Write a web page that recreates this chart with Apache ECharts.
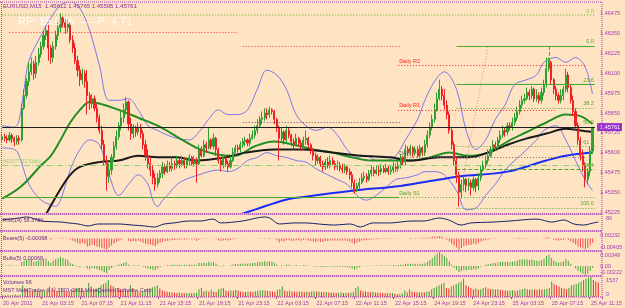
<!DOCTYPE html>
<html>
<head>
<meta charset="utf-8">
<script src="https://cdn.jsdelivr.net/npm/echarts@6/dist/echarts.min.js"></script>
<style>
html,body{margin:0;padding:0;background:#ffe4c4}
#chart{width:625px;height:308px}
</style>
</head>
<body>
<div id="chart"></div>
<script>
// EURUSD M15, values
const timeLabels = ['20 Apr 2011','21 Apr 03:15','21 Apr 07:15','21 Apr 11:15','21 Apr 15:15','21 Apr 19:15',
  '21 Apr 23:15','22 Apr 03:15','22 Apr 07:15','22 Apr 11:15','22 Apr 15:15','24 Apr 19:15','24 Apr 23:15',
  '25 Apr 03:15','25 Apr 07:15','25 Apr 11:15'];
const LABEL_EVERY = 16;
const header = ['EURUSD,M15', 1.45612, 1.45765, 1.45595, 1.45761];

const firstOpen = 1.4568;
const closes = [
  1.4570,1.4569,1.4568,1.4571,1.4569,1.4567,1.4569,1.4568,1.4588,1.4596,1.4605,1.4611,1.4616,1.4610,1.4617,1.4622,
  1.4627,1.4634,1.4637,1.4626,1.4620,1.4627,1.4634,1.4639,1.4645,1.4642,1.4639,1.4641,1.4631,1.4626,1.4618,1.4612,
  1.4606,1.4610,1.4605,1.4596,1.4591,1.4594,1.4588,1.4582,1.4574,1.4565,1.4555,1.4545,1.4549,1.4557,1.4564,1.4570,
  1.4577,1.4582,1.4587,1.4592,1.4578,1.4572,1.4576,1.4573,1.4576,1.4572,1.4565,1.4558,1.4553,1.4549,1.4544,1.4540,
  1.4544,1.4547,1.4551,1.4548,1.4552,1.4550,1.4553,1.4552,1.4555,1.4553,1.4555,1.4552,1.4555,1.4557,1.4553,1.4555,
  1.4553,1.4562,1.4558,1.4565,1.4563,1.4568,1.4564,1.4569,1.4562,1.4555,1.4552,1.4557,1.4553,1.4551,1.4555,1.4560,
  1.4563,1.4562,1.4565,1.4567,1.4568,1.4566,1.4569,1.4571,1.4574,1.4577,1.4581,1.4582,1.4585,1.4584,1.4587,1.4586,
  1.4581,1.4576,1.4569,1.4573,1.4568,1.4574,1.4571,1.4567,1.4565,1.4569,1.4566,1.4564,1.4568,1.4569,1.4565,1.4562,
  1.4558,1.4555,1.4557,1.4553,1.4551,1.4554,1.4552,1.4555,1.4553,1.4551,1.4552,1.4550,1.4549,1.4551,1.4548,1.4546,
  1.4541,1.4536,1.4539,1.4541,1.4544,1.4545,1.4543,1.4547,1.4549,1.4547,1.4549,1.4548,1.4550,1.4548,1.4550,1.4548,
  1.4549,1.4551,1.4550,1.4552,1.4557,1.4554,1.4562,1.4560,1.4563,1.4560,1.4562,1.4558,1.4563,1.4560,1.4565,1.4571,
  1.4576,1.4581,1.4587,1.4594,1.4600,1.4596,1.4590,1.4584,1.4574,1.4565,1.4555,1.4546,1.4535,1.4540,1.4543,1.4539,
  1.4541,1.4538,1.4543,1.4539,1.4544,1.4549,1.4552,1.4555,1.4558,1.4562,1.4565,1.4563,1.4568,1.4571,1.4574,1.4573,
  1.4577,1.4576,1.4579,1.4582,1.4586,1.4590,1.4593,1.4594,1.4598,1.4596,1.4600,1.4594,1.4596,1.4593,1.4598,1.4603,
  1.4613,1.4617,1.4606,1.4600,1.4596,1.4593,1.4596,1.4600,1.4609,1.4601,1.4593,1.4586,1.4577,1.4568,1.4558,1.4552,
  1.4543,1.4548,1.4561,1.4576
];
const highs = [
  1.4572,1.4572,1.4571,1.4573,1.4572,1.4570,1.4571,1.4571,1.4591,1.4600,1.4607,1.4617,1.4620,1.4618,1.4621,1.4626,
  1.4630,1.4637,1.4640,1.4641,1.4628,1.4630,1.4637,1.4642,1.4648,1.4646,1.4644,1.4644,1.4642,1.4634,1.4629,1.4621,
  1.4615,1.4613,1.4612,1.4612,1.4598,1.4597,1.4596,1.4591,1.4584,1.4577,1.4568,1.4558,1.4553,1.4559,1.4567,1.4574,
  1.4579,1.4586,1.4591,1.4595,1.4593,1.4582,1.4578,1.4577,1.4579,1.4578,1.4574,1.4568,1.4562,1.4557,1.4552,1.4547,
  1.4547,1.4549,1.4554,1.4553,1.4555,1.4554,1.4557,1.4555,1.4558,1.4557,1.4558,1.4557,1.4557,1.4559,1.4558,1.4558,
  1.4557,1.4565,1.4564,1.4568,1.4567,1.4576,1.4569,1.4572,1.4570,1.4563,1.4557,1.4558,1.4558,1.4555,1.4558,1.4563,
  1.4565,1.4565,1.4567,1.4569,1.4570,1.4569,1.4572,1.4574,1.4577,1.4581,1.4583,1.4586,1.4588,1.4588,1.4589,1.4588,
  1.4587,1.4582,1.4577,1.4576,1.4574,1.4577,1.4576,1.4572,1.4569,1.4572,1.4570,1.4568,1.4570,1.4574,1.4570,1.4566,
  1.4563,1.4560,1.4559,1.4558,1.4555,1.4556,1.4557,1.4558,1.4557,1.4555,1.4555,1.4554,1.4553,1.4553,1.4552,1.4550,
  1.4548,1.4543,1.4541,1.4544,1.4547,1.4548,1.4547,1.4549,1.4552,1.4551,1.4552,1.4552,1.4553,1.4552,1.4553,1.4552,
  1.4552,1.4554,1.4553,1.4555,1.4559,1.4558,1.4565,1.4564,1.4565,1.4564,1.4564,1.4564,1.4565,1.4564,1.4568,1.4574,
  1.4579,1.4584,1.4591,1.4598,1.4606,1.4602,1.4600,1.4593,1.4586,1.4576,1.4567,1.4557,1.4548,1.4543,1.4545,1.4544,
  1.4544,1.4543,1.4545,1.4544,1.4547,1.4552,1.4555,1.4558,1.4562,1.4564,1.4568,1.4567,1.4570,1.4574,1.4577,1.4576,
  1.4579,1.4579,1.4582,1.4585,1.4589,1.4593,1.4596,1.4597,1.4601,1.4600,1.4602,1.4601,1.4600,1.4598,1.4601,1.4606,
  1.4620,1.4620,1.4618,1.4607,1.4602,1.4598,1.4600,1.4602,1.4613,1.4611,1.4603,1.4596,1.4588,1.4579,1.4570,1.4562,
  1.4554,1.4550,1.4564,1.4576
];
const lows = [
  1.4567,1.4567,1.4566,1.4567,1.4566,1.4564,1.4565,1.4565,1.4567,1.4587,1.4594,1.4602,1.4609,1.4606,1.4607,1.4615,
  1.4620,1.4625,1.4631,1.4618,1.4616,1.4617,1.4625,1.4631,1.4636,1.4639,1.4635,1.4636,1.4629,1.4623,1.4616,1.4608,
  1.4602,1.4603,1.4601,1.4584,1.4587,1.4588,1.4586,1.4579,1.4572,1.4562,1.4552,1.4536,1.4541,1.4546,1.4554,1.4562,
  1.4568,1.4574,1.4579,1.4584,1.4574,1.4568,1.4569,1.4570,1.4571,1.4569,1.4562,1.4555,1.4550,1.4545,1.4540,1.4536,
  1.4538,1.4541,1.4544,1.4546,1.4547,1.4548,1.4548,1.4549,1.4550,1.4550,1.4551,1.4550,1.4550,1.4552,1.4552,1.4551,
  1.4541,1.4552,1.4557,1.4557,1.4560,1.4562,1.4562,1.4562,1.4558,1.4553,1.4548,1.4550,1.4551,1.4548,1.4550,1.4554,
  1.4558,1.4560,1.4560,1.4563,1.4564,1.4564,1.4564,1.4568,1.4569,1.4572,1.4576,1.4578,1.4580,1.4581,1.4582,1.4584,
  1.4578,1.4573,1.4555,1.4567,1.4565,1.4566,1.4569,1.4564,1.4562,1.4564,1.4564,1.4561,1.4562,1.4565,1.4563,1.4559,
  1.4555,1.4552,1.4553,1.4551,1.4548,1.4549,1.4550,1.4550,1.4552,1.4549,1.4549,1.4548,1.4547,1.4547,1.4546,1.4543,
  1.4538,1.4534,1.4535,1.4537,1.4540,1.4542,1.4541,1.4542,1.4545,1.4545,1.4546,1.4545,1.4546,1.4547,1.4547,1.4546,
  1.4546,1.4547,1.4548,1.4548,1.4550,1.4552,1.4552,1.4558,1.4558,1.4557,1.4558,1.4557,1.4557,1.4558,1.4558,1.4563,
  1.4569,1.4574,1.4579,1.4586,1.4593,1.4593,1.4587,1.4581,1.4572,1.4562,1.4552,1.4541,1.4526,1.4531,1.4536,1.4535,
  1.4536,1.4533,1.4536,1.4535,1.4536,1.4542,1.4548,1.4550,1.4553,1.4557,1.4560,1.4561,1.4562,1.4566,1.4569,1.4570,
  1.4571,1.4574,1.4574,1.4577,1.4580,1.4584,1.4588,1.4591,1.4593,1.4593,1.4594,1.4592,1.4592,1.4591,1.4591,1.4596,
  1.4601,1.4611,1.4603,1.4597,1.4593,1.4591,1.4591,1.4593,1.4598,1.4598,1.4591,1.4583,1.4574,1.4565,1.4555,1.4548,
  1.4538,1.4540,1.4545,1.4559
];

// moving averages and bands, [bar, price]
const maGreen = [[0,1.4531],[8,1.4539],[16,1.4552],[20,1.4558],[24,1.4568],[28,1.4579],[32,1.4587],[36,1.4592],
  [40,1.4591],[48,1.4587],[56,1.4582],[64,1.4577],[72,1.4570],[80,1.4563],[88,1.4559],[96,1.4558],[104,1.4564],
  [112,1.4567],[120,1.4565],[128,1.4562],[136,1.4560],[144,1.4557],[152,1.4555],[160,1.4555],[168,1.4555],
  [176,1.4557],[184,1.4560],[192,1.4558],[200,1.4560],[208,1.4567],[216,1.4573],[224,1.4579],[232,1.4584],
  [238,1.4583],[243,1.4578]];
const maBlack = [[18,1.4521],[24,1.4537],[28,1.4546],[32,1.4551],[40,1.4554],[48,1.4555],[56,1.4558],[64,1.4557],
  [72,1.4557],[80,1.4555],[92,1.4557],[100,1.4560],[112,1.4562],[124,1.4562],[136,1.4560],[148,1.4558],[160,1.4557],
  [168,1.4555],[180,1.4557],[192,1.4557],[200,1.4560],[208,1.4565],[216,1.4569],[224,1.4572],[232,1.4575],
  [238,1.4574],[243,1.4573]];
const maBlue = [[98,1.4521],[104,1.4524],[116,1.4530],[124,1.4532],[144,1.4536],[164,1.4539],[180,1.4543],
  [188,1.4545],[208,1.4548],[224,1.4555],[232,1.4558],[243,1.4560]];
const bandUpper = [[0,1.4577],[5,1.4576],[7,1.4581],[9,1.4600],[11,1.4618],[16,1.4634],[20,1.4645],[24,1.4653],
  [28,1.4655],[32,1.4651],[36,1.4637],[40,1.4615],[44,1.4593],[48,1.4593],[52,1.4594],[56,1.4587],[60,1.4577],
  [64,1.4574],[68,1.4571],[72,1.4569],[77,1.4568],[81,1.4573],[85,1.4581],[89,1.4587],[93,1.4584],[97,1.4584],
  [101,1.4587],[105,1.4600],[109,1.4612],[113,1.4609],[117,1.4600],[121,1.4584],[125,1.4577],[129,1.4574],
  [134,1.4576],[138,1.4571],[142,1.4562],[146,1.4557],[150,1.4558],[154,1.4555],[158,1.4555],[162,1.4558],
  [166,1.4568],[171,1.4581],[174,1.4593],[178,1.4605],[182,1.4611],[187,1.4600],[191,1.4574],[195,1.4562],
  [199,1.4568],[203,1.4581],[207,1.4590],[211,1.4603],[216,1.4606],[220,1.4609],[223,1.4617],[228,1.4620],
  [232,1.4617],[236,1.4620],[240,1.4614],[243,1.4597]];
const bandLower = [[0,1.4563],[5,1.4562],[7,1.4558],[11,1.4540],[16,1.4530],[20,1.4527],[22,1.4526],[24,1.4530],
  [28,1.4549],[32,1.4562],[36,1.4568],[40,1.4565],[44,1.4546],[48,1.4533],[52,1.4540],[56,1.4546],[60,1.4540],
  [62,1.4530],[64,1.4526],[66,1.4530],[68,1.4533],[72,1.4540],[77,1.4544],[81,1.4546],[85,1.4548],[89,1.4549],
  [93,1.4548],[97,1.4550],[101,1.4555],[105,1.4557],[109,1.4560],[113,1.4558],[117,1.4557],[121,1.4555],
  [125,1.4554],[129,1.4550],[134,1.4546],[138,1.4543],[142,1.4540],[146,1.4533],[150,1.4530],[154,1.4533],
  [158,1.4538],[162,1.4543],[166,1.4544],[171,1.4546],[174,1.4548],[178,1.4548],[182,1.4546],[187,1.4536],
  [191,1.4524],[195,1.4525],[199,1.4533],[203,1.4540],[207,1.4549],[211,1.4555],[216,1.4562],[220,1.4568],
  [223,1.4574],[228,1.4577],[232,1.4568],[236,1.4555],[240,1.4543],[243,1.4536]];

// lower windows
const oscPts = [[0,67],[7,80],[10,87],[16,60],[24,53],[27,47],[31,40],[35,27],[39,40],[48,40],[53,33],[58,27],
  [62,20],[66,40],[70,47],[76,60],[81,60],[86,73],[89,47],[98,60],[107,87],[109,80],[113,40],[119,47],[124,47],
  [129,40],[135,33],[142,40],[146,20],[151,47],[158,47],[167,60],[172,60],[178,80],[182,67],[187,33],[191,47],
  [200,53],[207,60],[218,73],[224,53],[229,67],[233,40],[237,33],[241,47],[243,53]];
const bears = [ // x 0.00001
  -5,-3,-8,-2,-6,-10,-4,-8,-10,5,10,15,20,-5,10,15,
  20,25,30,-10,-40,-15,10,20,30,25,15,10,-40,-80,-120,-160,
  -200,-150,-180,-280,-260,-220,-250,-280,-300,-330,-360,-400,-320,-250,-180,-120,
  -80,-50,-20,0,-90,-120,-90,-100,-80,-100,-150,-180,-200,-220,-240,-260,
  -200,-150,-110,-90,-80,-70,-60,-50,-40,-45,-35,-40,-30,-25,-30,-25,
  -90,-40,-20,-15,-10,5,-5,0,-20,-60,-90,-70,-60,-70,-50,-30,
  -20,-15,-10,-5,0,-5,0,5,10,15,20,15,20,15,20,15,
  -20,-60,-140,-90,-100,-60,-60,-80,-90,-60,-60,-80,-50,-40,-70,-90,
  -100,-120,-100,-110,-120,-90,-90,-70,-70,-80,-70,-80,-80,-70,-90,-100,
  -150,-190,-150,-110,-80,-60,-60,-50,-30,-30,-25,-25,-20,-20,-15,-20,
  -15,-10,-10,-5,0,5,10,15,20,15,20,15,20,25,30,40,
  50,60,70,80,90,70,20,-40,-100,-180,-250,-320,-405,-330,-260,-250,
  -220,-230,-180,-200,-150,-100,-80,-60,-40,-20,-10,-15,-5,0,5,0,
  5,0,10,15,20,25,20,15,20,15,10,5,10,0,10,20,
  40,50,0,-40,-60,-80,-60,-50,-20,-50,-100,-160,-220,-280,-320,-350,
  -380,-330,-250,-150
];
const bulls = [ // x 0.00001
  20,15,10,20,15,10,15,10,100,140,160,170,160,100,120,140,
  150,180,190,120,80,130,170,200,230,200,170,160,80,50,20,-10,
  -30,0,-10,-60,-80,-40,-60,-80,-100,-120,-150,-180,-100,-50,-20,10,
  40,60,80,100,30,10,20,15,25,10,-20,-40,-60,-80,-90,-100,
  -60,-30,0,10,20,25,30,30,35,30,35,30,35,40,35,40,
  30,80,70,90,80,110,80,100,60,20,-10,20,10,0,20,40,
  50,45,55,60,65,60,70,75,85,95,110,110,120,110,120,115,
  80,40,0,20,10,40,30,15,10,25,15,5,20,25,10,0,
  -10,-20,-10,-20,-30,-15,-20,-10,-15,-20,-15,-20,-25,-20,-30,-35,
  -60,-90,-60,-30,-10,0,-10,5,15,10,15,10,20,15,20,15,
  15,25,20,25,40,30,60,55,60,50,55,45,60,55,70,110,
  150,200,260,320,349,300,250,200,120,40,-40,-100,-150,-120,-100,-110,
  -90,-100,-80,-90,-60,-20,0,30,50,60,80,70,90,100,110,100,
  110,100,110,120,140,160,170,160,170,150,160,140,140,130,150,180,
  250,280,200,140,110,90,100,120,180,130,60,0,-60,-120,-160,-200,
  -222,-190,-120,-40
];
const volumes = [
  150,120,180,140,160,200,130,170,900,700,650,500,450,600,500,420,
  480,520,450,800,650,520,480,500,700,450,400,380,600,550,620,700,
  680,500,520,1100,800,600,650,720,900,1000,1100,1300,900,800,700,650,
  600,550,520,500,900,700,500,450,400,480,600,650,700,750,800,900,
  650,500,450,400,380,350,320,300,350,300,280,300,320,280,300,350,
  600,700,450,500,420,550,400,380,600,650,700,500,450,500,480,550,
  500,420,400,380,420,400,380,450,480,500,520,480,500,450,420,400,
  550,600,800,500,450,500,420,400,380,420,400,380,400,380,420,450,
  400,420,380,360,380,350,340,320,300,320,340,300,320,300,350,400,
  700,800,500,450,420,380,360,400,350,330,320,300,280,300,280,300,
  250,220,240,260,500,350,600,400,380,360,350,380,340,400,450,600,
  700,800,900,1000,1100,700,650,800,900,1000,1100,1200,1400,900,800,700,
  600,650,550,600,700,750,650,600,620,580,600,550,520,500,480,500,
  520,480,500,550,600,650,600,550,600,580,550,620,580,600,620,700,
  1200,1000,900,800,700,650,600,700,900,950,1000,1100,1200,1300,1400,1500,
  1537,1300,1200,1100
];

// axis ticks
const priceTicks = [1.46475,1.46350,1.46225,1.46100,1.45975,1.45850,1.45725,1.45600,1.45475,1.45350,1.45225];
const oscTicks = [100, 80];
const bearsTicks = [0.00232, -0.00405];
const bullsTicks = [0.00349, 0.00, -0.00222];
const volTicks = [1537, 0];

// drawn objects
const fibHigh = 1.46273, fibLow = 1.45251, fibFrom = 187, fibAnchor = [225, 1.4617];
const fibRatios = [0, 23.6, 38.2, 50, 61.8, 76.4, 100];
const topFibLevel = 1.46468;
const pivotNames  = ['', '', 'Daily R2', 'Daily R1', '', 'Daily P', 'Daily S1', ''];
const pivotPrices = [1.4636, 1.4627, 1.4615, 1.4587, 1.4579, 1.4557, 1.4532, 1.4532];
const pivotFrom   = [3, 99, 163, 163, 99, 163, 163, 0];
const pivotTo     = [97, 164, 240, 228, 164, 240, 244, 163];
const weeklyLevel = 1.4552, weeklyName = '#1007?22 Daily';
const trendLine = [[0, 1.4626], [161, 1.4655]];
const fibTrend = [[190, 1.4546], [200, 1.4627]];

const PURPLE = '#a23ab2', GREEN = '#4fa82a', FONT = 'Liberation Sans';
const DOT = [1, 2];
const N = closes.length, SLOTS = N + 1;
const cats = Array.from({length: SLOTS}, (_, i) => (i % LABEL_EVERY === 0 && timeLabels[i / LABEL_EVERY]) || '');
const candles = closes.map((c, i) => [i ? closes[i - 1] : firstOpen, c, lows[i], highs[i]]);
const bid = header[4];

const grids = [
  {left: 1, right: 23, top: 3, height: 210},
  {left: 1, right: 23, top: 215, height: 15},
  {left: 1, right: 23, top: 232, height: 18},
  {left: 1, right: 23, top: 252, height: 23},
  {left: 1, right: 23, top: 277, height: 20}
];
const xAxes = grids.map((g, k) => ({
  type: 'category', gridIndex: k, data: cats, boundaryGap: true,
  axisLine: {show: false},
  axisTick: {show: k === 4, length: 2, interval: i => i % LABEL_EVERY === 0, lineStyle: {color: PURPLE}},
  axisLabel: {show: k === 4, interval: i => i % LABEL_EVERY === 0, align: 'left', margin: 3,
    color: PURPLE, fontSize: 5.5, fontFamily: FONT}
}));
function subAxis(k, min, max, ticks, fmt) {
  return {
    type: 'value', gridIndex: k, position: 'right', min: min, max: max,
    splitLine: {show: false}, axisLine: {show: false}, axisTick: {show: false},
    axisLabel: {
      customValues: ticks, margin: 4, color: PURPLE, fontSize: 5.5, fontFamily: FONT,
      formatter: v => v === max ? '{t|' + fmt(v) + '}' : (v === min ? '{b|' + fmt(v) + '}' : fmt(v)),
      rich: {t: {padding: [7, 0, 0, 0], fontSize: 5.5, color: PURPLE}, b: {padding: [0, 0, 6, 0], fontSize: 5.5, color: PURPLE}}
    }
  };
}
const yAxes = [
  {type: 'value', gridIndex: 0, position: 'right', min: 1.45219, max: 1.46544, scale: true,
    splitLine: {show: false}, axisLine: {show: false}, axisTick: {show: false},
    axisLabel: {customValues: priceTicks.concat([bid]), margin: 1,
      formatter: v => v === bid ? '{bid|' + v.toFixed(5) + '}' : '{p|' + v.toFixed(5) + '}',
      rich: {
        p: {color: PURPLE, fontSize: 5.5, fontFamily: FONT, padding: [0, 0, 0, 3]},
        bid: {color: '#ffffff', fontSize: 5.5, fontFamily: FONT, backgroundColor: '#9932cc', padding: [1, 2, 1, 3]}
      }}},
  subAxis(1, 0, 100, oscTicks, v => String(v)),
  subAxis(2, -0.00405, 0.00232, bearsTicks, v => v.toFixed(5)),
  subAxis(3, -0.00222, 0.00349, bullsTicks, v => v === 0 ? '0.00' : v.toFixed(5)),
  subAxis(4, 0, 1537, volTicks, v => String(v))
];

function hSeg(from, to, price, color, type, width, label, pos) {
  return [
    {coord: [from, price], lineStyle: {color: color, type: type, width: width},
      label: label ? {show: true, formatter: label, position: pos, color: color, fontSize: 5.5,
        fontFamily: FONT, distance: 1} : {show: false}},
    {coord: [to, price]}
  ];
}
const pivotStyle = [
  ['#ff3030', DOT], ['#ff3030', DOT], ['#ff2020', DOT], ['#ff2020', DOT],
  ['#6a4a40', DOT], ['#707070', DOT], [GREEN, DOT], [GREEN, 'solid']
];
const lines = [];
pivotPrices.forEach((p, i) => lines.push(hSeg(pivotFrom[i], pivotTo[i], p, pivotStyle[i][0], pivotStyle[i][1], 1,
  pivotNames[i], 'insideStartTop')));
lines.push(hSeg(0, SLOTS - 1, weeklyLevel, '#8fd16a', [6, 2, 1, 2], 1, weeklyName, 'insideStartTop'));
lines.push(hSeg(0, SLOTS - 1, topFibLevel, '#8fbf4f', DOT, 1.5, '0.0', 'insideEndTop'));
const fibStyle = ['solid', 'solid', DOT, 'solid', DOT, [4, 2], DOT];
fibRatios.forEach((r, i) => {
  const p = fibHigh - (fibHigh - fibLow) * r / 100;
  lines.push(hSeg(fibFrom, SLOTS - 1, p, GREEN, fibStyle[i], 1, r.toFixed(1), 'insideEndTop'));
});
lines.push([{coord: [fibAnchor[0], fibHigh], lineStyle: {color: GREEN, width: 1}, label: {show: false}},
  {coord: fibAnchor}]);
lines.push([{coord: trendLine[0], lineStyle: {color: '#1c1c72', width: 2}, label: {show: false}},
  {coord: trendLine[1]}]);
lines.push([{coord: fibTrend[0], lineStyle: {color: '#f08080', width: 1, type: DOT}, label: {show: false}},
  {coord: fibTrend[1]}]);
lines.push(hSeg(0, SLOTS - 1, bid, '#202020', 'solid', 1, '', 'end'));

function maLine(data, color, width) {
  return {type: 'line', xAxisIndex: 0, yAxisIndex: 0, data: data, showSymbol: false, smooth: 0.35,
    lineStyle: {color: color, width: width}, silent: true, z: 3};
}

const option = {
  animation: false,
  backgroundColor: '#ffe4c4',
  grid: grids,
  xAxis: xAxes,
  yAxis: yAxes,
  series: [
    {type: 'candlestick', xAxisIndex: 0, yAxisIndex: 0, data: candles, barWidth: 1.6, z: 4,
      itemStyle: {color: '#2f9f2f', color0: '#ee2222', borderColor: '#2f9f2f', borderColor0: '#ee2222', borderWidth: 1}},
    maLine(bandUpper, '#5c5cf0', 0.8),
    maLine(bandLower, '#5c5cf0', 0.8),
    maLine(maGreen, '#229022', 2),
    maLine(maBlack, '#1a1a1a', 2),
    maLine(maBlue, '#1a2cf5', 2),
    {type: 'line', xAxisIndex: 0, yAxisIndex: 0, data: [], silent: true,
      markLine: {symbol: 'none', silent: true, animation: false, data: lines},
      z: 2},
    {type: 'line', xAxisIndex: 1, yAxisIndex: 1, data: oscPts, showSymbol: false, smooth: 0.3,
      lineStyle: {color: '#141e6e', width: 1}},
    {type: 'bar', xAxisIndex: 2, yAxisIndex: 2, data: bears.map(v => v / 1e5), barWidth: 1,
      itemStyle: {color: '#f2504a'}},
    {type: 'bar', xAxisIndex: 3, yAxisIndex: 3, data: bulls.map(v => v / 1e5), barWidth: 1,
      itemStyle: {color: '#46a83a'}},
    {type: 'bar', xAxisIndex: 4, yAxisIndex: 4, barWidth: 1,
      data: volumes.map((v, i) => ({value: v, itemStyle: {color: i && v < volumes[i - 1] ? '#ee2a2a' : '#3aa030'}}))}
  ],
  graphic: [
    {type: 'line', shape: {x1: 602, y1: 2, x2: 602, y2: 297}, style: {stroke: PURPLE, lineDash: [1, 1], lineWidth: 1}, z: 100},
    {type: 'line', shape: {x1: 0, y1: 2, x2: 602, y2: 2}, style: {stroke: PURPLE, lineDash: [1, 1], lineWidth: 1}, z: 100},
    {type: 'line', shape: {x1: 1.5, y1: 2, x2: 1.5, y2: 297}, style: {stroke: PURPLE, lineDash: [1, 1], lineWidth: 1}, z: 100},
    ...[213, 230, 250, 275].map(y => ({type: 'rect', shape: {x: 0, y: y, width: 602, height: 2},
      style: {fill: '#dfa9dd'}, z: 99})),
    ...[214, 231, 251, 276, 297].map(y => ({type: 'line', shape: {x1: 0, y1: y, x2: 602, y2: y},
      style: {stroke: '#9b2f9b', lineDash: [1, 1], lineWidth: 1}, z: 100})),
    {type: 'text', left: 3, top: 3, z: 100,
      style: {text: header[0] + '  ' + header.slice(1).map(v => v.toFixed(5)).join(' '),
        fill: '#8a2a9a', font: '6px ' + FONT}},
    {type: 'text', left: 18, top: 16, z: 100,
      style: {text: 'RP: $5.0 %  ---- P: 4.71', fill: 'rgba(255,255,255,0.9)', font: '11px ' + FONT}},
    {type: 'text', left: 3, top: 217, z: 100, style: {text: 'RSI(14) 58.3786', fill: '#6a2a8a', font: '5.5px ' + FONT}},
    {type: 'text', left: 3, top: 235, z: 100, style: {text: 'Bears(5) -0.00068', fill: '#6a2a8a', font: '5.5px ' + FONT}},
    {type: 'text', left: 3, top: 255, z: 100, style: {text: 'Bulls(5) 0.00068', fill: '#6a2a8a', font: '5.5px ' + FONT}},
    {type: 'text', left: 3, top: 279, z: 100, style: {text: 'Volumes 96', fill: '#6a2a8a', font: '5.5px ' + FONT}},
    {type: 'text', left: 3, top: 287, z: 100,
      style: {text: 'MST MetaTrader 4, \u00a9 2001-2011 MetaQuotes Software Corp.', fill: '#6a2a8a', font: '5.5px ' + FONT}}
  ]
};

const chart = echarts.init(document.getElementById('chart'));
chart.setOption(option);
</script>
</body>
</html>
